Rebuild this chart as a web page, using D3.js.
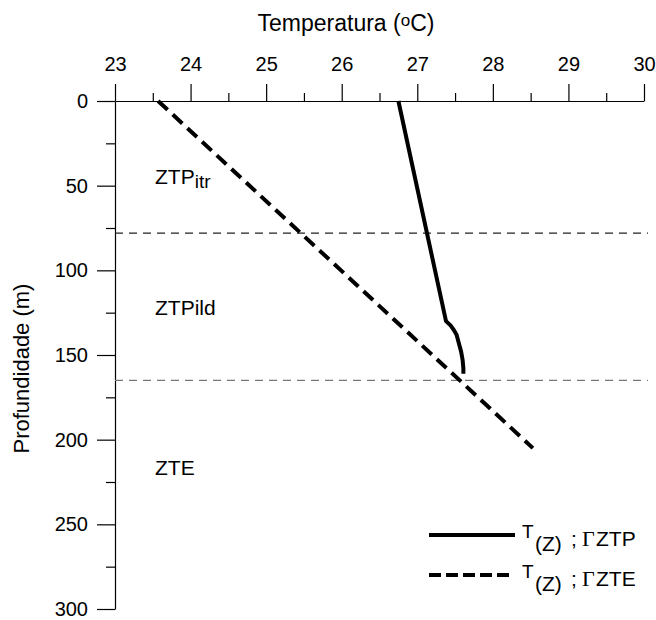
<!DOCTYPE html>
<html>
<head>
<meta charset="utf-8">
<script src="https://cdn.jsdelivr.net/npm/d3@7"></script>
<style>
  body { margin: 0; background: #fff; }
  svg text { font-family: "Liberation Sans", Arial, sans-serif; fill: #000; }
</style>
</head>
<body>
<div id="chart"></div>
<script>
// temperatures (oC) and depths (m)
const profileTemp = [26.75, 27.38, 27.44, 27.48, 27.52, 27.55, 27.58, 27.60, 27.61, 27.61];
const profileDepth = [0, 130, 132.5, 135, 138, 143, 148, 153, 158, 161];
const gradientTemp = [23.57, 28.53];
const gradientDepth = [0, 205];
const boundaryDepths = [78, 165];
const zoneLabels = [
  { name: "ZTP", sub: "itr", depth: 45 },
  { name: "ZTPild", sub: "", depth: 122 },
  { name: "ZTE", sub: "", depth: 217 }
];
const xMajorTicks = [23, 24, 25, 26, 27, 28, 29, 30];
const xMinorTicks = [23.5, 24.5, 25.5, 26.5, 27.5, 28.5, 29.5];
const yMajorTicks = [0, 50, 100, 150, 200, 250, 300];
const yMinorTicks = [25, 75, 125, 175, 225, 275];

const width = 656, height = 620;

const svg = d3.select("#chart")
  .append("svg")
  .attr("width", width)
  .attr("height", height);

const x = d3.scaleLinear().domain([23, 30]).range([115, 644]);
const y = d3.scaleLinear().domain([0, 300]).range([101, 609]);

// top axis
const xAxis = d3.axisTop(x)
  .tickValues(xMajorTicks)
  .tickFormat(d3.format("d"))
  .tickSize(17)
  .tickSizeOuter(0)
  .tickPadding(13);

const gx = svg.append("g")
  .attr("transform", `translate(0,${y(0)})`)
  .call(xAxis);
gx.selectAll("text").style("font-size", "20px");

svg.append("g")
  .attr("transform", `translate(0,${y(0)})`)
  .call(d3.axisTop(x).tickValues(xMinorTicks).tickFormat("").tickSize(8).tickSizeOuter(0))
  .select(".domain").remove();

// left axis
const yAxis = d3.axisLeft(y)
  .tickValues(yMajorTicks)
  .tickFormat(d3.format("d"))
  .tickSize(18)
  .tickSizeOuter(0)
  .tickPadding(9);

const gy = svg.append("g")
  .attr("transform", `translate(${x(23)},0)`)
  .call(yAxis);
gy.selectAll("text").style("font-size", "20px");

svg.append("g")
  .attr("transform", `translate(${x(23)},0)`)
  .call(d3.axisLeft(y).tickValues(yMinorTicks).tickFormat("").tickSize(9).tickSizeOuter(0))
  .select(".domain").remove();

svg.selectAll(".tick line, .domain").attr("stroke", "#000").attr("stroke-width", 1.2);

// axis titles
const xTitle = svg.append("text")
  .attr("x", 346)
  .attr("y", 31)
  .attr("text-anchor", "middle")
  .style("font-size", "23px");
xTitle.append("tspan").text("Temperatura (");
xTitle.append("tspan").text("o").style("font-size", "17px").attr("dy", -5);
xTitle.append("tspan").text("C)").attr("dy", 5);

svg.append("text")
  .attr("transform", `translate(29,${y(158)}) rotate(-90)`)
  .attr("text-anchor", "middle")
  .style("font-size", "22px")
  .text("Profundidade (m)");

// zone boundaries
svg.append("g")
  .selectAll("line")
  .data(boundaryDepths)
  .join("line")
  .attr("x1", x(23))
  .attr("x2", x(30) + 4)
  .attr("y1", d => y(d))
  .attr("y2", d => y(d))
  .attr("stroke", (d, i) => i === 0 ? "#222" : "#777")
  .attr("stroke-width", 1.2)
  .attr("stroke-dasharray", "8,6");

// zone labels
zoneLabels.forEach(z => {
  const t = svg.append("text")
    .attr("x", 155)
    .attr("y", y(z.depth) + 7)
    .style("font-size", "21px");
  t.append("tspan").text(z.name);
  if (z.sub) t.append("tspan").text(z.sub).attr("dy", 4).style("font-size", "19px");
});

// curves
const line = d3.line()
  .x(d => x(d[0]))
  .y(d => y(d[1]));

svg.append("path")
  .datum(profileTemp.map((t, i) => [t, profileDepth[i]]))
  .attr("d", line)
  .attr("fill", "none")
  .attr("stroke", "#000")
  .attr("stroke-width", 4)
  .attr("stroke-linejoin", "round");

svg.append("path")
  .datum(gradientTemp.map((t, i) => [t, gradientDepth[i]]))
  .attr("d", line)
  .attr("fill", "none")
  .attr("stroke", "#000")
  .attr("stroke-width", 4)
  .attr("stroke-dasharray", "13,7");

// legend
const legendItems = [
  { sub: "ZTP", dash: null, yPos: 535, x2: 515 },
  { sub: "ZTE", dash: "12,5", yPos: 575, x2: 512 }
];
const legend = svg.append("g");
legendItems.forEach(l => {
  legend.append("line")
    .attr("x1", 429).attr("x2", l.x2)
    .attr("y1", l.yPos).attr("y2", l.yPos)
    .attr("stroke", "#000")
    .attr("stroke-width", 4)
    .attr("stroke-dasharray", l.dash);
  const base = l.yPos + 11;
  const t = legend.append("text")
    .style("font-size", "21px");
  t.append("tspan").text("T").attr("x", 522).attr("y", base - 8).style("font-size", "19px");
  t.append("tspan").text("(Z)").attr("x", 535).attr("y", base + 5).style("font-size", "21px");
  t.append("tspan").text(";").attr("x", 571).attr("y", base);
  t.append("tspan").text("Γ").attr("x", 582).attr("y", base)
    .style("font-family", "'Liberation Serif', serif").style("font-size", "22px");
  t.append("tspan").text(l.sub).attr("x", 596).attr("y", base);
});
</script>
</body>
</html>
